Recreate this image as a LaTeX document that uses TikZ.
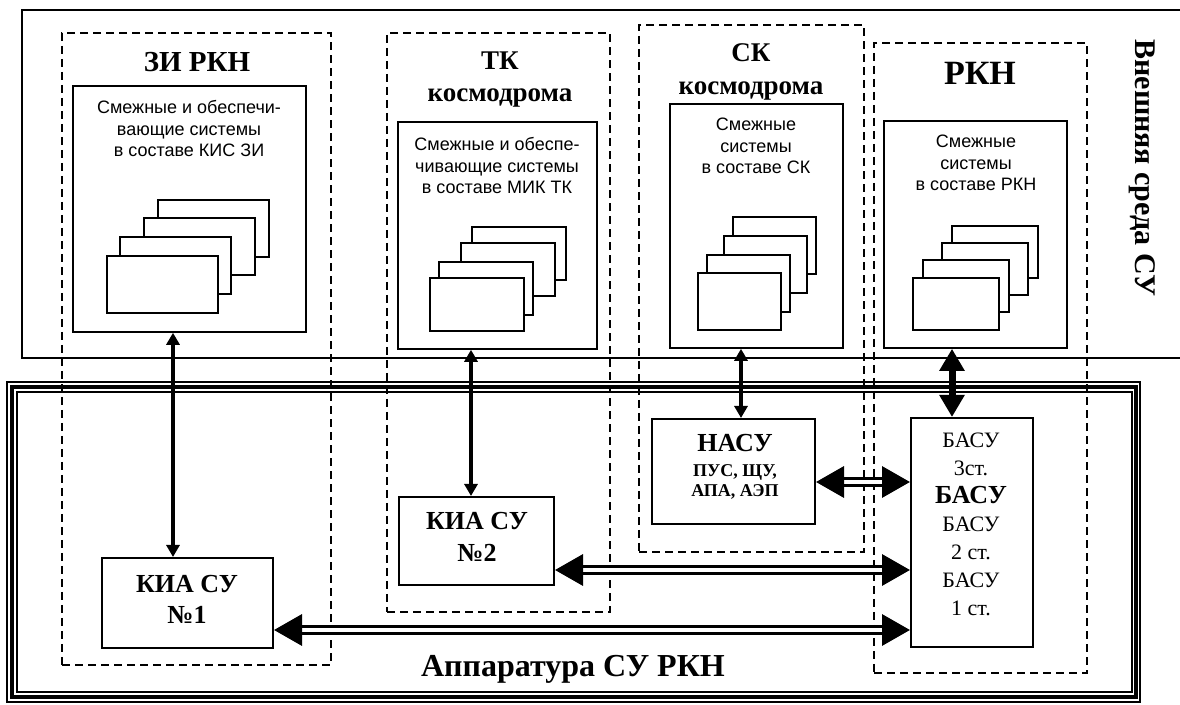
\documentclass[tikz,border=0pt]{standalone}
\usepackage{fontspec}
\setmainfont{Liberation Serif}
\newfontfamily\arialfont{Liberation Sans}
\usetikzlibrary{arrows.meta,fit}

\begin{document}
\begin{tikzpicture}[x=0.5pt, y=-0.5pt,
	box/.style={draw, line width=1pt, fill=white, inner sep=0pt},
	sysbox/.style={draw, line width=0.8pt, inner sep=0pt},
	zone/.style={draw, line width=0.7pt, dash pattern=on 4pt off 2.5pt, inner sep=0pt},
	sheet/.style={draw, line width=0.8pt, fill=white},
	title/.style={font=\bfseries\fontsize{13.5}{16}\selectfont, anchor=base, inner sep=0pt},
	systext/.style={font=\arialfont\fontsize{9}{10.75}\selectfont, align=center, anchor=north, inner sep=0pt},
	kiatext/.style={font=\bfseries\fontsize{13}{15.5}\selectfont, align=center, anchor=north, inner sep=0pt},
	link/.style={line width=1.8pt, {Triangle[length=6pt,width=6.5pt]}-{Triangle[length=6pt,width=6.5pt]}},
	biglink/.style={line width=3.5pt, {Triangle[length=11pt,width=12pt]}-{Triangle[length=11pt,width=12pt]}},
	buslink/.style={double, double distance=1.8pt, line width=1.7pt, {Triangle[length=14pt,width=15.5pt]}-{Triangle[length=14pt,width=15.5pt]}}]
	\fill[white] (0,0) rectangle (1180,705);
	\useasboundingbox (0,0) rectangle (1180,705);
	
	% external environment and equipment frame
	\draw[line width=0.8pt] (1180,10) -- (22,10) -- (22,358) -- (1180,358);
	\draw[line width=0.8pt] (7,382) rectangle (1140,702);
	\draw[line width=1.6pt] (12,387) rectangle (1136,697);
	\draw[line width=0.8pt] (17,392) rectangle (1132,692);
	\node[font=\bfseries\fontsize{15}{18}\selectfont, rotate=-90] (env) at (1142,168) {Внешняя среда СУ};
	\node[font=\bfseries\fontsize{16}{18}\selectfont, anchor=base] (equip) at (573,677) {Аппаратура СУ РКН};
	
	% zones
	\node[zone, fit={(62,33) (331,665)}] (zizone) {};
	\node[zone, fit={(387,33) (610,612)}] (tkzone) {};
	\node[zone, fit={(639,25) (864,552)}] (skzone) {};
	\node[zone, fit={(874,43) (1087,673)}] (rknzone) {};
	\node[title, font=\bfseries\fontsize{14.5}{16}\selectfont] (zititle) at (197,72) {ЗИ РКН};
	\node[title] (tktitle) at (500,70) {ТК};
	\node[title] (tksub) at (500,102) {космодрома};
	\node[title] (sktitle) at (751,62) {СК};
	\node[title] (sksub) at (751,95) {космодрома};
	\node[title, font=\bfseries\fontsize{17}{18}\selectfont] (rkntitle) at (980,85) {РКН};
	
	% adjacent systems
	\node[sysbox, fit={(73,86) (306,332)}] (zisys) {};
	\node[sysbox, fit={(398,122) (597,349)}] (tksys) {};
	\node[sysbox, fit={(670,104) (843,348)}] (sksys) {};
	\node[sysbox, fit={(884,121) (1067,348)}] (rknsys) {};
	\node[systext] (zitext) at (189,100) {Смежные и обеспечи-\\вающие системы\\в составе КИС ЗИ};
	\node[systext] (tktext) at (497,137) {Смежные и обеспе-\\чивающие системы\\в составе МИК ТК};
	\node[systext] (sktext) at (756,118) {Смежные\\системы\\в составе СК};
	\node[systext] (rkntext) at (976,135) {Смежные\\системы\\в составе РКН};
	\foreach \x/\y in {158/200,144/218,120/237,107/256}
		\draw[sheet] (\x,\y) rectangle ++(111,57);
	\foreach \x/\y in {472/227,461/243,439/262,430/278}
		\draw[sheet] (\x,\y) rectangle ++(94,53);
	\foreach \x/\y in {733/217,724/236,707/255,698/273}
		\draw[sheet] (\x,\y) rectangle ++(83,57);
	\foreach \x/\y in {952/226,942/243,923/260,913/278}
		\draw[sheet] (\x,\y) rectangle ++(86,52);
	
	% control system equipment
	\node[box, fit={(102,558) (273,648)}] (kia1) {};
	\node[box, fit={(399,497) (554,585)}] (kia2) {};
	\node[box, fit={(652,419) (815,524)}] (nasu) {};
	\node[box, fit={(911,418) (1033,647)}] (basu) {};
	\node[kiatext] (kia1text) at (187,575) {КИА СУ\\№1};
	\node[kiatext, font=\bfseries\fontsize{13}{16}\selectfont] (kia2text) at (477,512) {КИА СУ\\№2};
	\node[anchor=base, inner sep=0pt, font=\bfseries\fontsize{13}{15}\selectfont] (nasutitle) at (735,452) {НАСУ};
	\node[anchor=base, inner sep=0pt, font=\bfseries\fontsize{9}{10}\selectfont] (nasuline1) at (735,477) {ПУС, ЩУ,};
	\node[anchor=base, inner sep=0pt, font=\bfseries\fontsize{9}{10}\selectfont] (nasuline2) at (735,497) {АПА, АЭП};
	\node[align=center, anchor=north, inner sep=0pt, font=\fontsize{11}{14}\selectfont] (basutext) at (971,433)
		{БАСУ\\3ст.\\{\bfseries\fontsize{13}{14}\selectfont БАСУ}\\БАСУ\\2 ст.\\БАСУ\\1 ст.};
	
	% links
	\coordinate (v1) at (173,0);
	\coordinate (v2) at (471,0);
	\coordinate (v3) at (741,0);
	\coordinate (v4) at (952,0);
	\coordinate (h1) at (0,482);
	\coordinate (h2) at (0,570);
	\coordinate (h3) at (0,630);
	\draw[link] (zisys.south -| v1) -- (kia1.north -| v1);
	\draw[link] (tksys.south -| v2) -- (kia2.north -| v2);
	\draw[link] (sksys.south -| v3) -- (nasu.north -| v3);
	\draw[biglink] (rknsys.south -| v4) -- (basu.north -| v4);
	\draw[buslink] (nasu.east |- h1) -- (basu.west |- h1);
	\draw[buslink] (kia2.east |- h2) -- (basu.west |- h2);
	\draw[buslink] (kia1.east |- h3) -- (basu.west |- h3);
\end{tikzpicture}
\end{document}
